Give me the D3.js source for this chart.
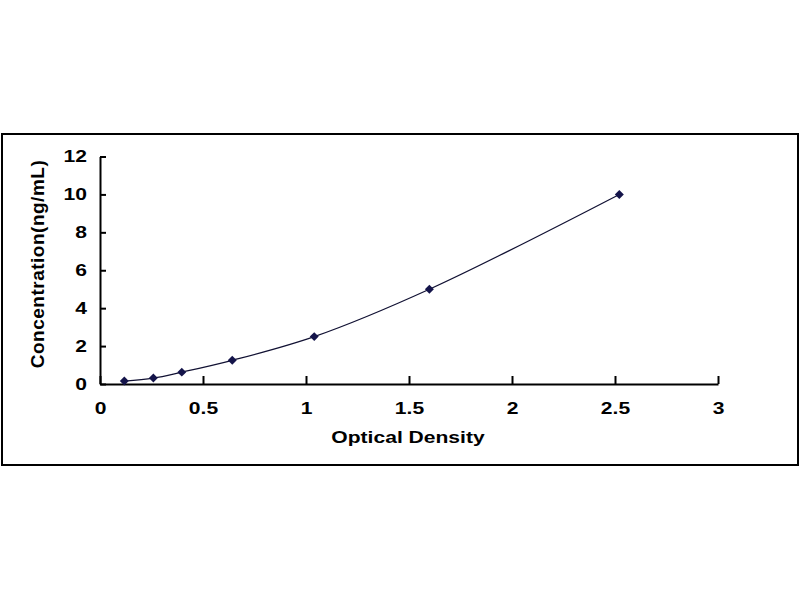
<!DOCTYPE html>
<html>
<head>
<meta charset="utf-8">
<script src="https://cdn.jsdelivr.net/npm/d3@7"></script>
<style>
  body { margin: 0; background: #fff; }
  text { font-family: "Liberation Sans", Arial, sans-serif; font-weight: bold; fill: #000; }
</style>
</head>
<body>
<script>
// standard curve points
var opticalDensity = [0.118, 0.259, 0.397, 0.642, 1.04, 1.599, 2.521];
var concentration = [0.156, 0.312, 0.625, 1.25, 2.5, 5, 10];
var xTicks = [0, 0.5, 1, 1.5, 2, 2.5, 3];
var yTicks = [0, 2, 4, 6, 8, 10, 12];

var w = 800, h = 600;
var stretch = 1.24; // the picture's text is wider than it is tall

function draw() {
	var svg = d3.select("body")
			.append("svg")
			.attr("width", w)
			.attr("height", h);

	svg.append("rect")
		.attr("width", w)
		.attr("height", h)
		.attr("fill", "#fff");

	// outer frame
	svg.append("rect")
		.attr("x", 2)
		.attr("y", 134)
		.attr("width", 796)
		.attr("height", 331)
		.attr("fill", "none")
		.attr("stroke", "#000")
		.attr("stroke-width", 2);

	var x = d3.scaleLinear().domain([0, 3]).range([100, 718]);
	var y = d3.scaleLinear().domain([0, 12]).range([384, 156.5]);

	var xAxis = svg.append("g")
			.attr("transform", "translate(0," + y(0) + ")")
			.call(d3.axisBottom(x)
				.tickValues(xTicks)
				.tickFormat(d3.format("~g"))
				.tickSizeInner(-8)
				.tickSizeOuter(0)
				.tickPadding(18));

	var yAxis = svg.append("g")
			.attr("transform", "translate(" + x(0) + ",0)")
			.call(d3.axisLeft(y)
				.tickValues(yTicks)
				.tickSizeInner(-6)
				.tickSizeOuter(0)
				.tickPadding(13));

	[xAxis, yAxis].forEach(function(a) {
		a.select(".domain").attr("stroke", "#000").attr("stroke-width", 2);
		a.selectAll(".tick line").attr("stroke", "#000").attr("stroke-width", 2);
		a.selectAll("text")
			.attr("fill", "#000")
			.attr("transform", "scale(" + stretch + ",1)")
			.style("font-size", "17px")
			.style("font-family", "'Liberation Sans', Arial, sans-serif")
			.style("font-weight", "bold");
	});
	yAxis.selectAll("text").attr("x", -13 / stretch);

	var pts = opticalDensity.map(function(d, i) { return [d, concentration[i]]; });

	var line = d3.line()
			.x(function(d) { return x(d[0]); })
			.y(function(d) { return y(d[1]); })
			.curve(d3.curveCatmullRom.alpha(0.5));

	svg.append("path")
		.attr("d", line(pts))
		.attr("fill", "none")
		.attr("stroke", "#111133")
		.attr("stroke-width", 1.2);

	svg.selectAll(".pt")
		.data(pts)
		.enter()
		.append("path")
		.attr("class", "pt")
		.attr("transform", function(d) { return "translate(" + x(d[0]) + "," + y(d[1]) + ") rotate(45)"; })
		.attr("d", d3.symbol().type(d3.symbolSquare).size(40))
		.attr("fill", "#14144a");

	// axis titles
	svg.append("text")
		.attr("transform", "translate(408,443) scale(" + stretch + ",1)")
		.attr("text-anchor", "middle")
		.style("font-size", "17px")
		.text("Optical Density");

	svg.append("text")
		.attr("transform", "translate(44,264) rotate(-90)")
		.attr("text-anchor", "middle")
		.style("font-size", "19px")
		.style("letter-spacing", "0.5px")
		.text("Concentration(ng/mL)");
}

draw();
</script>
</body>
</html>
